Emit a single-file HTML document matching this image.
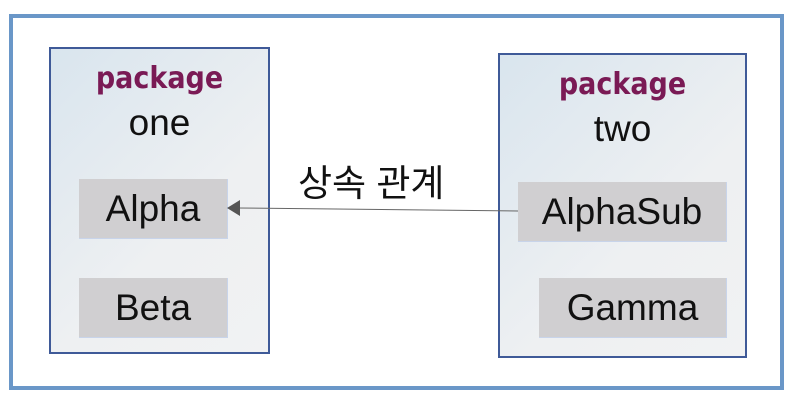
<!DOCTYPE html>
<html><head><meta charset="utf-8"><style>
body{margin:0;width:792px;height:405px;background:#fff;position:relative;overflow:hidden;font-family:"Liberation Sans","Noto Sans CJK KR",sans-serif}
.abs{position:absolute;box-sizing:border-box}
.outer{left:9px;top:14px;width:775px;height:376px;border:4px solid #6a97c8}
.pkg{border:2px solid #3f5a98;background:linear-gradient(135deg,#d9e5ee,#eef0f2 60%,#f1f2f3)}
.kw{color:#7a1a55;font-weight:bold;font-size:30px;text-align:center;width:100%;font-family:"DejaVu Sans Condensed","DejaVu Sans","Liberation Sans",sans-serif}
.nm{font-size:37px;text-align:center;width:100%;color:#111}
.box{background:#d0cfd1;border-bottom:1px solid #c8d4ea;border-right:1px solid #c8d4ea;font-size:37px;color:#111;display:flex;align-items:center;justify-content:center}
</style></head><body>
<div class="abs outer"></div>
<div class="abs pkg" style="left:49px;top:47px;width:221px;height:307px">
 <div class="abs kw" style="top:12px">package</div>
 <div class="abs nm" style="top:53px">one</div>
</div>
<div class="abs box" style="left:79px;top:179px;width:149px;height:60px">Alpha</div>
<div class="abs box" style="left:79px;top:278px;width:149px;height:60px">Beta</div>
<div class="abs pkg" style="left:498px;top:53px;width:249px;height:305px">
 <div class="abs kw" style="top:12px">package</div>
 <div class="abs nm" style="top:53px">two</div>
</div>
<div class="abs box" style="left:518px;top:182px;width:209px;height:60px">AlphaSub</div>
<div class="abs box" style="left:539px;top:278px;width:188px;height:60px">Gamma</div>
<svg class="abs" style="left:0;top:0" width="792" height="405">
<line x1="518" y1="211" x2="238" y2="208" stroke="#666" stroke-width="1"/>
<polygon points="227,208 240,200 240,216" fill="#555"/>
</svg>
<div class="abs" style="left:298px;top:160px;font-size:37px;line-height:48px;color:#111;white-space:nowrap">상속 관계</div>
</body></html>
